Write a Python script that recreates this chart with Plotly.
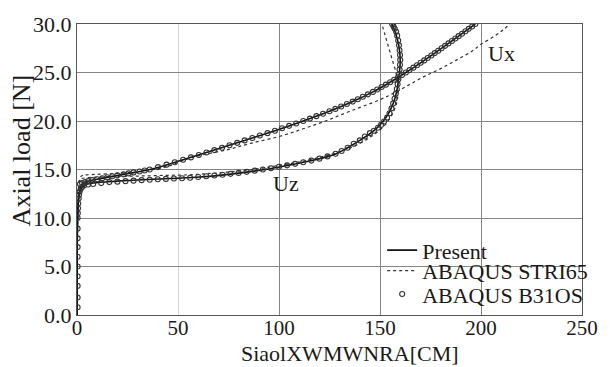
import plotly.graph_objects as go

# ---------------- data ----------------
# shared pre-buckling (vertical) part, B31OS circles
b31_base_load = [0.8, 1.8, 3.0, 4.0, 5.0, 6.0, 7.0, 7.9, 8.9, 10.0, 10.5, 11.0, 11.5, 12.0, 12.4, 12.7, 13.0, 13.2, 13.35]
b31_base_disp = [0.3, 0.3, 0.3, 0.3, 0.3, 0.3, 0.3, 0.3, 0.3, 0.3, 0.4, 0.5, 0.6, 0.8, 1.0, 1.3, 1.8, 2.5, 3.5]

# Ux - ABAQUS B31OS
b31_ux_load = [13.5, 13.6, 13.7, 13.8, 13.9, 14.0, 14.1, 14.2, 14.3, 14.4, 14.5, 14.6, 14.7, 14.8, 14.9,
               15.0, 15.25, 15.5, 15.75, 16.0, 16.25, 16.5, 16.75, 17.0, 17.25, 17.5, 17.75, 18.0,
               18.25, 18.5, 18.75, 19.0, 19.25, 19.5, 19.75, 20.0, 20.25, 20.5, 20.75, 21.0, 21.25,
               21.5, 21.75, 22.0, 22.25, 22.5, 22.75, 23.0, 23.25, 23.5, 23.75, 24.0, 24.25, 24.5,
               24.75, 25.0, 25.25, 25.5, 25.75, 26.0, 26.25, 26.5, 26.75, 27.0, 27.25, 27.5, 27.75,
               28.0, 28.25, 28.5, 28.75, 29.0, 29.25, 29.5, 29.75, 30.0]
b31_ux_disp = [1.5, 2.5, 4.0, 5.5, 7.5, 10.0, 12.5, 15.0, 17.5, 20.0, 23.0, 25.5, 28.0, 31.0, 33.5,
               36.0, 40.1, 44.3, 48.4, 52.5, 56.4, 60.3, 64.1, 68.0, 71.8, 75.5, 79.3, 83.0,
               86.8, 90.5, 94.3, 98.0, 101.5, 105.0, 108.5, 112.0, 115.3, 118.5, 121.8, 125.0, 127.9,
               130.8, 133.6, 136.5, 139.0, 141.5, 144.0, 146.5, 148.6, 150.8, 152.9, 155.0, 157.0, 158.9,
               160.9, 162.8, 164.6, 166.5, 168.3, 170.1, 171.9, 173.6, 175.4, 177.1, 178.8, 180.5, 182.2,
               183.9, 185.6, 187.3, 188.9, 190.6, 192.3, 193.9, 195.6, 197.2]

# Uz - ABAQUS B31OS
b31_uz_load = [13.45, 13.5, 13.6, 13.7, 13.75, 13.8, 13.85, 13.9, 13.95, 14.0, 14.03, 14.07, 14.1, 14.15,
               14.22, 14.3, 14.38, 14.46, 14.55, 14.65, 14.76, 14.88, 15.0, 15.13, 15.28, 15.43, 15.58,
               15.74, 15.92, 16.12, 16.35, 16.62, 16.9, 17.25, 17.65, 18.0, 18.4, 18.75, 19.0, 19.3,
               19.6, 19.95, 20.35, 20.8, 21.3, 21.8, 22.3, 22.8, 23.3, 23.8, 24.3, 24.8, 25.3, 25.8,
               26.3, 26.8, 27.3, 27.8, 28.3, 28.8, 29.2, 29.5, 29.75, 30.0]
b31_uz_disp = [5.5, 8.0, 12.0, 16.0, 20.0, 24.0, 28.0, 32.0, 36.0, 40.0, 44.0, 48.0, 52.0, 56.0,
               60.0, 64.0, 68.0, 72.0, 76.0, 80.0, 84.0, 88.0, 92.0, 96.0, 100.0, 104.0, 108.0,
               112.0, 116.0, 120.0, 124.0, 128.0, 131.0, 134.0, 137.0, 140.0, 142.5, 145.0, 147.0, 149.0,
               150.5, 152.0, 153.5, 154.7, 155.7, 156.5, 157.2, 157.8, 158.3, 158.7, 159.1, 159.4, 159.7, 159.9,
               160.0, 159.9, 159.7, 159.4, 159.0, 158.5, 158.0, 157.3, 156.7, 156.0]

# Present (solid)
pr_ux_load = [0.0, 10.0, 12.0, 13.0, 13.5, 13.8, 14.0, 14.5, 15.0, 16.0, 17.0, 18.0, 19.0, 20.0, 21.0,
              22.0, 23.0, 24.0, 25.0, 26.0, 27.0, 28.0, 29.0, 30.0]
pr_ux_disp = [0.0, 0.3, 0.8, 1.8, 2.5, 5.5, 10.0, 23.0, 36.0, 52.5, 68.0, 83.0, 98.0, 112.0, 125.0,
              136.5, 146.5, 155.0, 162.8, 170.1, 177.1, 183.9, 190.6, 197.2]
pr_uz_load = [0.0, 10.0, 12.0, 13.0, 13.4, 13.6, 13.8, 14.0, 14.2, 14.5, 15.0, 15.5, 16.0, 16.6, 17.25,
              18.0, 19.0, 20.0, 21.0, 22.0, 23.0, 24.0, 25.0, 26.0, 27.0, 28.0, 29.0, 30.0]
pr_uz_disp = [0.0, 0.3, 0.8, 1.8, 4.0, 8.0, 20.0, 38.0, 59.0, 75.0, 93.0, 106.0, 118.0, 128.0, 134.0,
              140.0, 147.0, 151.7, 154.8, 156.9, 158.2, 159.0, 159.6, 160.0, 159.8, 159.1, 157.8, 156.0]

# ABAQUS STRI65 (dotted)
st_ux_load = [0.0, 10.0, 13.0, 14.0, 14.3, 14.4, 14.45, 14.5, 14.6, 14.75, 15.0, 15.4, 15.9, 16.4, 17.05,
              17.7, 18.4, 19.2, 20.0, 21.0, 22.2, 23.0, 23.8, 24.6, 25.4, 26.3, 27.2, 27.9, 28.8, 29.4, 30.0]
st_ux_disp = [0.0, 0.3, 1.0, 1.5, 2.0, 3.0, 5.0, 10.0, 20.0, 30.0, 38.0, 46.0, 52.0, 60.0, 74.6,
              86.0, 100.0, 112.0, 123.0, 135.0, 150.0, 158.0, 165.0, 172.0, 180.0, 188.0, 195.5, 200.0, 207.0, 211.0, 214.3]
st_uz_load = [0.0, 10.0, 13.0, 13.8, 14.0, 14.15, 14.25, 14.3, 14.35, 14.4, 14.45, 14.55, 14.65, 14.8, 14.95,
              15.15, 15.35, 15.6, 15.9, 16.3, 16.7, 17.2, 17.8, 18.4, 18.9, 19.6, 20.4, 21.2, 22.0, 23.0,
              24.0, 25.0, 26.0, 27.0, 28.0, 29.0, 30.0]
st_uz_disp = [0.0, 0.3, 0.8, 1.0, 1.5, 5.0, 15.0, 25.0, 35.0, 45.0, 55.0, 63.0, 70.0, 78.0, 85.0,
              92.0, 98.0, 105.0, 113.0, 121.0, 128.0, 135.0, 141.0, 145.5, 149.0, 152.5, 155.3, 157.2, 158.4, 159.0,
              158.7, 157.9, 156.5, 155.1, 153.7, 152.3, 150.9]

x_ticks = [0, 50, 100, 150, 200, 250]
x_dark_grid = [100, 150, 200]
x_light_grid = [50]
y_ticks = [0, 5, 10, 15, 20, 25, 30]

FONT = "'Liberation Serif', 'Times New Roman', serif"
TXT = "#1a1a1a"
GRID = "#858585"

W, H = 610, 367
L, R, T, B = 77, 20, 16, 52
PW, PH = W - L - R, H - T - B

fig = go.Figure()

# STRI65 dotted
for i, (xs, ys) in enumerate([(st_ux_disp, st_ux_load), (st_uz_disp, st_uz_load)]):
    fig.add_trace(go.Scatter(x=xs, y=ys, mode="lines", name="ABAQUS STRI65",
                             legend="legend2", showlegend=(i == 0),
                             line=dict(color="#333333", width=1.2, dash="dot", shape="spline")))
# Present solid
for i, (xs, ys) in enumerate([(pr_ux_disp, pr_ux_load), (pr_uz_disp, pr_uz_load)]):
    fig.add_trace(go.Scatter(x=xs, y=ys, mode="lines", name="Present",
                             legend="legend", showlegend=(i == 0),
                             line=dict(color="#111111", width=1.6, shape="spline")))
# B31OS circles
for i, (xs, ys) in enumerate([(b31_base_disp, b31_base_load), (b31_ux_disp, b31_ux_load),
                              (b31_uz_disp, b31_uz_load)]):
    fig.add_trace(go.Scatter(x=xs, y=ys, mode="markers", name="ABAQUS B31OS",
                             legend="legend3", showlegend=(i == 0),
                             marker=dict(symbol="circle-open", size=5, color="#333333",
                                         line=dict(width=1.1, color="#333333"))))

# invisible trace on overlay axis so it gets drawn (dark vertical grid)
fig.add_trace(go.Scatter(x=[None], y=[None], xaxis="x2", yaxis="y", showlegend=False,
                         hoverinfo="skip", mode="lines"))

fig.add_annotation(x=210, y=27.0, text="Ux", showarrow=False, xanchor="center", yanchor="middle",
                   font=dict(family=FONT, size=22, color=TXT))
fig.add_annotation(x=103.5, y=13.6, text="Uz", showarrow=False, xanchor="center", yanchor="middle",
                   font=dict(family=FONT, size=22, color=TXT))

# axis titles (placed in pixel terms via paper coords)
fig.add_annotation(x=(354 - L) / PW, y=(H - B - 355) / PH, xref="paper", yref="paper",
                   text="SiaolXWMWNRA[CM]", showarrow=False, xanchor="center", yanchor="middle",
                   font=dict(family=FONT, size=22, color=TXT))
fig.add_annotation(x=(21 - L) / PW, y=(H - B - 146) / PH, xref="paper", yref="paper",
                   text="Axial load [N]", showarrow=False, textangle=-90, xanchor="center", yanchor="middle",
                   font=dict(family=FONT, size=26, color=TXT))

leg_common = dict(xanchor="left", yanchor="top", bgcolor="rgba(0,0,0,0)", borderwidth=0,
                  font=dict(family=FONT, size=22, color=TXT), itemwidth=30)
legx = (387 - L) / PW

fig.update_layout(
    width=W, height=H,
    margin=dict(l=L, r=R, t=T, b=B),
    paper_bgcolor="white", plot_bgcolor="white",
    font=dict(family=FONT, size=22, color=TXT),
    showlegend=True,
    legend=dict(x=legx, y=(H - B - 227) / PH, **leg_common),
    legend2=dict(x=legx, y=(H - B - 248) / PH, **leg_common),
    legend3=dict(x=legx, y=(H - B - 272) / PH, **leg_common),
    xaxis=dict(range=[0, 250], tickvals=x_ticks, ticktext=[str(v) for v in x_ticks],
               showgrid=False, zeroline=False,
               minor=dict(tickvals=x_light_grid, showgrid=True, gridcolor="#d6d6d6", gridwidth=1, ticks=""),
               showline=True, linecolor="#555555", linewidth=1, mirror=True, ticks="",
               ticklabelstandoff=-6,
               tickfont=dict(family=FONT, size=21, color=TXT)),
    xaxis2=dict(range=[0, 250], overlaying="x", tickvals=x_dark_grid, showticklabels=False,
                showgrid=True, gridcolor=GRID, gridwidth=1, zeroline=False, ticks="", showline=False),
    yaxis=dict(range=[0, 30], tickvals=y_ticks, ticktext=[f"{v:.1f}" for v in y_ticks],
               showgrid=True, gridcolor=GRID, gridwidth=1, zeroline=False,
               showline=True, linecolor="#555555", linewidth=1, mirror=True, ticks="",
               tickfont=dict(family=FONT, size=22, color=TXT)),
)

fig.write_html("out.html")
